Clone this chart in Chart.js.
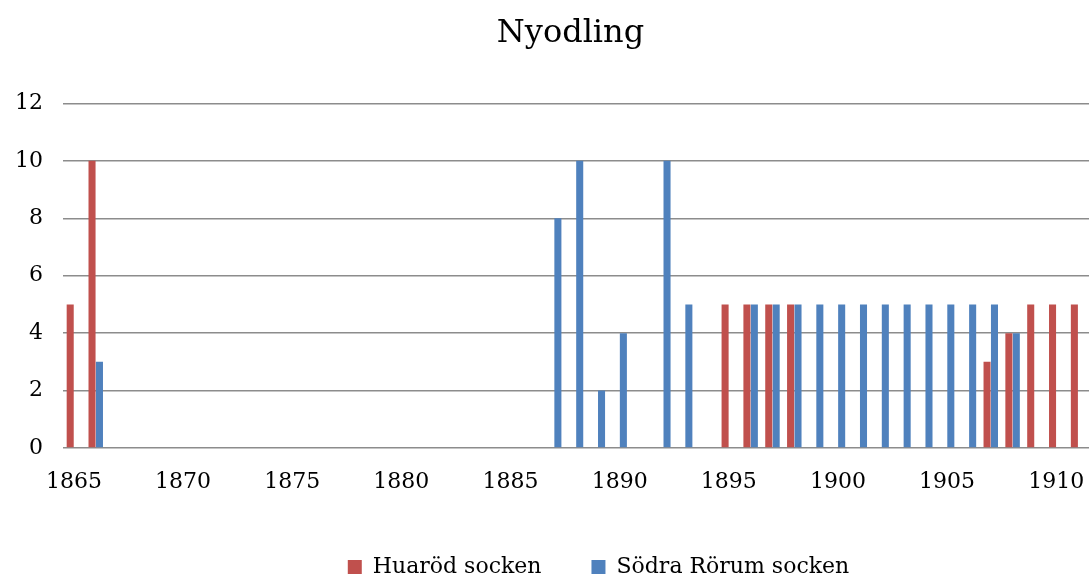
<!DOCTYPE html>
<html>
<head>
<meta charset="utf-8">
<script src="https://cdn.jsdelivr.net/npm/chart.js@4"></script>
<style>
  html, body { margin: 0; padding: 0; background: #fff; }
  #wrap { width: 1090px; height: 578px; }
</style>
</head>
<body>
<div id="wrap"><canvas id="nyodlingChart" width="1090" height="578"></canvas></div>
<script>
// years 1865..1911
const years = ['1865','1866','1867','1868','1869','1870','1871','1872','1873','1874',
  '1875','1876','1877','1878','1879','1880','1881','1882','1883','1884',
  '1885','1886','1887','1888','1889','1890','1891','1892','1893','1894',
  '1895','1896','1897','1898','1899','1900','1901','1902','1903','1904',
  '1905','1906','1907','1908','1909','1910','1911'];

// Huaröd socken
const huarod = [5, 10, null, null, null, null, null, null, null, null,
  null, null, null, null, null, null, null, null, null, null,
  null, null, null, null, null, null, null, null, null, null,
  5, 5, 5, 5, null, null, null, null, null, null,
  null, null, 3, 4, 5, 5, 5];

// Södra Rörum socken
const sodraRorum = [null, 3, null, null, null, null, null, null, null, null,
  null, null, null, null, null, null, null, null, null, null,
  null, null, 8, 10, 2, 4, null, 10, 5, null,
  null, 5, 5, 5, 5, 5, 5, 5, 5, 5,
  5, 5, 5, 4, null, null, null];

const yTicks = [0, 2, 4, 6, 8, 10, 12];

const serif = 'DejaVu Serif';

// title and legend sit a bit right of centre in the original
const nudgeBoxes = {
    id: 'nudgeBoxes',
    afterLayout(chart) {
        const t = chart.titleBlock;
        if (t) { t.left += 26; t.right += 26; }
        const l = chart.legend;
        if (l) { l.left += 54; l.right += 54; }
    }
};

const ctx = document.getElementById('nyodlingChart').getContext('2d');
const nyodlingChart = new Chart(ctx, {
    type: 'bar',
    data: {
        labels: years,
        datasets: [{
            label: 'Huaröd socken',
            data: huarod,
            backgroundColor: '#C0504D',
            barPercentage: 0.95,
            categoryPercentage: 0.68
        }, {
            label: 'Södra Rörum socken',
            data: sodraRorum,
            backgroundColor: '#4F81BD',
            barPercentage: 0.95,
            categoryPercentage: 0.68
        }]
    },
    plugins: [nudgeBoxes],
    options: {
        responsive: false,
        animation: false,
        layout: { padding: { left: 0, right: 1, top: 0, bottom: -10 } },
        plugins: {
            title: {
                display: true,
                text: 'Nyodling',
                color: '#000',
                font: { family: serif, size: 32, weight: 'normal' },
                padding: { top: 14, bottom: 51 }
            },
            legend: {
                position: 'bottom',
                labels: {
                    color: '#000',
                    font: { family: serif, size: 22 },
                    boxWidth: 14,
                    boxHeight: 14,
                    padding: 50
                }
            },
            tooltip: { enabled: false }
        },
        scales: {
            x: {
                grid: { display: false, drawTicks: false },
                border: { display: false },
                ticks: {
                    color: '#000',
                    font: { family: serif, size: 22 },
                    maxRotation: 0,
                    autoSkip: false,
                    padding: 21,
                    callback: function (val, i) {
                        return (i % 5 === 0) ? years[i] : null;
                    }
                },
                afterFit: function (scale) {
                    scale.height = 58;
                    scale.paddingRight = 0;
                    scale.paddingLeft = 0;
                }
            },
            y: {
                min: 0,
                max: 12,
                afterBuildTicks: function (scale) {
                    scale.ticks = yTicks.map(v => ({ value: v }));
                },
                grid: { color: '#8c8c8c', lineWidth: 1.5, drawTicks: false },
                border: { display: false },
                ticks: {
                    color: '#000',
                    font: { family: serif, size: 22 },
                    padding: 20
                },
                afterFit: function (scale) { scale.width = 63; }
            }
        }
    }
});
</script>
</body>
</html>
